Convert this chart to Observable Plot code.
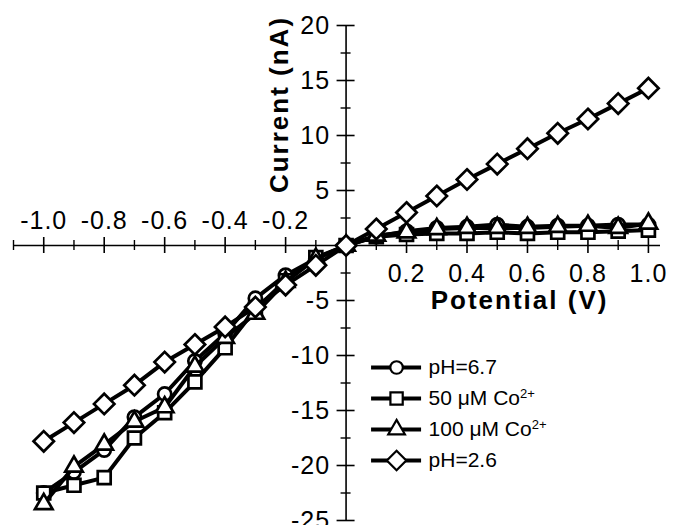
<!DOCTYPE html>
<html><head><meta charset="utf-8">
<script src="https://cdn.jsdelivr.net/npm/d3@7"></script>
<script src="https://cdn.jsdelivr.net/npm/@observablehq/plot@0.6"></script>
<style>body{margin:0;background:#fff}</style>
</head><body><div id="chart"></div>
<script>
// ---- data ----
const potential = [-1.0,-0.9,-0.8,-0.7,-0.6,-0.5,-0.4,-0.3,-0.2,-0.1,0,0.1,0.2,0.3,0.4,0.5,0.6,0.7,0.8,0.9,1.0];
const phNeutral = [-22.5,-20.6,-18.6,-15.6,-13.5,-10.5,-8.0,-4.8,-2.7,-1.2,0,0.8,1.3,1.6,1.7,1.9,1.7,1.8,1.8,1.9,1.9];
const co50      = [-22.5,-21.8,-21.1,-17.5,-15.2,-12.4,-9.3,-5.8,-3.2,-1.1,0,0.8,1.0,1.1,1.1,1.2,1.1,1.2,1.2,1.3,1.4];
const co100     = [-23.5,-20.1,-18.1,-16.0,-14.7,-11.0,-8.4,-6.2,-3.3,-1.2,0,0.9,1.2,1.5,1.6,1.6,1.6,1.7,1.8,1.6,2.0];
const phAcid    = [-17.8,-16.1,-14.4,-12.7,-10.6,-9.0,-7.4,-5.6,-3.6,-1.8,0,1.5,3.0,4.5,6.0,7.4,8.8,10.2,11.5,12.9,14.3];
const seriesNames = ["pH=6.7","50 μM Co2+","100 μM Co2+","pH=2.6"];
const xTickLabels = [-1.0,-0.8,-0.6,-0.4,-0.2,0.2,0.4,0.6,0.8,1.0];
const xMinorTicks = [-1.1,-0.9,-0.7,-0.5,-0.3,-0.1,0.1,0.3,0.5,0.7,0.9];
const yTickLabels = [20,15,10,5,-5,-10,-15,-20,-25];
const yMinorTicks = [17.5,12.5,7.5,2.5,-2.5,-7.5,-12.5,-17.5,-22.5];
const xTitle = "Potential (V)";
const yTitle = "Current (nA)";

// ---- layout ----
const W = 674, H = 525;
const mL = 13, mR = 14, mT = 25, mB = 5;
const xDom = [-1.1, 1.04], yDom = [-25, 20];
const pxX = (W - mL - mR) / (xDom[1] - xDom[0]);  // px per unit
const pxY = (H - mT - mB) / (yDom[1] - yDom[0]);
const ux = px => px / pxX, uy = px => px / pxY;

const symbols = ["circle","square","triangle","diamond2"];
const radii = [6.6, 7.3, 6.5, 9.2];
const values = [phNeutral, co50, co100, phAcid];
const series = seriesNames.map((name, i) => ({
  name, symbol: symbols[i], r: radii[i],
  rows: potential.map((x, j) => ({x, y: values[i][j]}))
}));

const fmtX = v => (v < 0 ? "-" : "") + Math.abs(v).toFixed(1);
const fmtY = v => (v < 0 ? "-" : "") + Math.abs(v);

const marks = [];
// axes lines
marks.push(Plot.ruleY([0], {x1: xDom[0], x2: xDom[1], stroke: "black", strokeWidth: 1.6}));
marks.push(Plot.ruleX([0], {y1: yDom[0], y2: yDom[1], stroke: "black", strokeWidth: 1.6}));
// x ticks
marks.push(Plot.ruleX(xTickLabels, {x: d => d, y1: uy(-8), y2: uy(8), stroke: "black", strokeWidth: 1.6}));
marks.push(Plot.ruleX(xMinorTicks, {x: d => d, y1: uy(-5), y2: uy(5), stroke: "black", strokeWidth: 1.4}));
// y ticks
marks.push(Plot.ruleY(yTickLabels, {y: d => d, x1: ux(-9), x2: ux(9), stroke: "black", strokeWidth: 1.6}));
marks.push(Plot.ruleY(yMinorTicks, {y: d => d, x1: ux(-5), x2: ux(5), stroke: "black", strokeWidth: 1.4}));
// tick labels
marks.push(Plot.text(xTickLabels.filter(d => d < 0), {x: d => d, y: 0, text: fmtX, dy: -17, lineAnchor: "bottom", fontSize: 25}));
marks.push(Plot.text(xTickLabels.filter(d => d > 0), {x: d => d, y: 0, text: fmtX, dy: 36, lineAnchor: "bottom", fontSize: 25}));
marks.push(Plot.text(yTickLabels, {x: 0, y: d => d, text: fmtY, dx: -16, textAnchor: "end", lineAnchor: "middle", fontSize: 25}));
// axis titles
marks.push(Plot.text([xTitle], {x: ux(519 - 345.5), y: uy(245 - 308), text: d => d, textAnchor: "middle", lineAnchor: "bottom", fontSize: 26, fontWeight: "bold"}));
marks.push(Plot.text([yTitle], {x: ux(287 - 345.5), y: uy(245 - 104), text: d => d, rotate: -90, textAnchor: "middle", lineAnchor: "bottom", fontSize: 26, fontWeight: "bold"}));
// data
for (const s of series) {
  marks.push(Plot.line(s.rows, {x: "x", y: "y", stroke: "black", strokeWidth: 4}));
  marks.push(Plot.dot(s.rows, {x: "x", y: "y", symbol: s.symbol, r: s.r, fill: "white", stroke: "black", strokeWidth: 2.7}));
}
// legend (inside plot)
const legX1 = ux(371 - 345.5), legX2 = ux(421 - 345.5), legXm = (legX1 + legX2) / 2, legXt = ux(428 - 345.5);
const legY0 = uy(245 - 367), legDy = uy(31);
series.forEach((s, i) => {
  const y = legY0 - i * legDy;
  marks.push(Plot.ruleY([y], {x1: legX1, x2: legX2, y: d => d, stroke: "black", strokeWidth: 4}));
  marks.push(Plot.dot([y], {x: legXm, y: d => d, symbol: s.symbol, r: s.r * 0.95, fill: "white", stroke: "black", strokeWidth: 2.2}));
  marks.push(Plot.text([s.name], {x: legXt, y, text: d => d, textAnchor: "start", lineAnchor: "middle", fontSize: 21}));
});

const chart = Plot.plot({
  width: W, height: H,
  marginLeft: mL, marginRight: mR, marginTop: mT, marginBottom: mB,
  x: {domain: xDom, axis: null},
  y: {domain: yDom, axis: null},
  style: {fontFamily: "'Liberation Sans', Arial, sans-serif", color: "black", background: "white"},
  marks
});

// typographic tweaks: letter spacing and superscripts
chart.querySelectorAll("g[aria-label='text']").forEach(g => {
  const fs = +g.getAttribute("font-size");
  if (fs === 25) g.setAttribute("letter-spacing", "1");
  if (fs === 26) g.setAttribute("letter-spacing", "2");
});
chart.querySelectorAll("text").forEach(t => {
  const s = t.textContent;
  if (s.endsWith("Co2+")) {
    t.textContent = s.slice(0, -2);
    const sup = document.createElementNS("http://www.w3.org/2000/svg", "tspan");
    sup.setAttribute("dy", "-0.55em");
    sup.setAttribute("font-size", "13");
    sup.textContent = "2+";
    t.appendChild(sup);
  }
});
document.getElementById("chart").appendChild(chart);
</script>
</body></html>
